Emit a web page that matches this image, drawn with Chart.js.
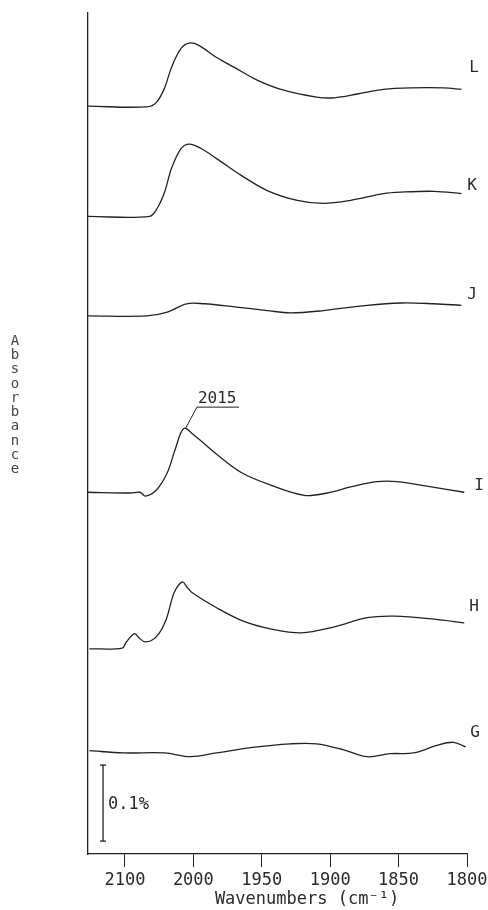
<!DOCTYPE html>
<html>
<head>
<meta charset="utf-8">
<script src="https://cdn.jsdelivr.net/npm/chart.js@4.4.1/dist/chart.umd.min.js"></script>
<style>
  html, body { margin: 0; padding: 0; background: #fff; }
  canvas { display: block; }
</style>
</head>
<body>
<canvas id="c" width="488" height="910"></canvas>
<script>
// ---- data (wavenumber axis units as drawn, absorbance in % relative to each trace's baseline) ----
const seriesNames = ['L', 'K', 'J', 'I', 'H', 'G'];
const baselineOffsets = [0.984, 0.839, 0.708, 0.476, 0.270, 0.136];

const xL = [2077, 2034, 2027, 2021, 2016, 2009, 2003, 1996, 1983, 1970, 1953, 1934, 1910, 1897, 1880, 1861, 1841, 1817, 1804];
const yL = [0, -0.001, 0.005, 0.024, 0.051, 0.076, 0.083, 0.080, 0.064, 0.051, 0.034, 0.021, 0.012, 0.011, 0.016, 0.022, 0.024, 0.024, 0.022];

const xK = [2077, 2032, 2026, 2021, 2016, 2009, 2003, 1994, 1983, 1965, 1946, 1924, 1905, 1885, 1861, 1848, 1824, 1804];
const yK = [0, 0, 0.012, 0.032, 0.063, 0.089, 0.095, 0.089, 0.076, 0.054, 0.034, 0.021, 0.017, 0.021, 0.030, 0.032, 0.033, 0.030];

const xJ = [2077, 2034, 2019, 2005, 1992, 1970, 1946, 1929, 1905, 1873, 1848, 1824, 1804];
const yJ = [0, 0, 0.005, 0.016, 0.016, 0.012, 0.007, 0.004, 0.007, 0.014, 0.017, 0.016, 0.014];

const xI = [2077, 2046, 2039, 2035, 2027, 2019, 2013, 2007, 2000, 1983, 1965, 1943, 1919, 1902, 1885, 1866, 1851, 1826, 1802];
const yI = [0, -0.001, 0, -0.005, 0.003, 0.026, 0.058, 0.084, 0.076, 0.050, 0.026, 0.009, -0.004, -0.001, 0.007, 0.014, 0.014, 0.007, 0];

const xH = [2076, 2052, 2049, 2043, 2040, 2035, 2027, 2020, 2014, 2008, 2005, 2001, 1983, 1963, 1943, 1921, 1897, 1873, 1853, 1824, 1802];
const yH = [0, 0.001, 0.009, 0.020, 0.015, 0.009, 0.016, 0.038, 0.074, 0.088, 0.082, 0.074, 0.054, 0.036, 0.026, 0.021, 0.029, 0.041, 0.043, 0.039, 0.034];

const xG = [2076, 2051, 2021, 2002, 1983, 1958, 1929, 1910, 1890, 1873, 1856, 1839, 1822, 1810, 1801];
const yG = [0, -0.003, -0.003, -0.008, -0.003, 0.004, 0.009, 0.009, 0.001, -0.008, -0.004, -0.003, 0.007, 0.011, 0.005];

const tickValues = [2050, 2000, 1950, 1900, 1850, 1800];
const tickLabels = ['2100', '2000', '1950', '1900', '1850', '1800'];

const scaleBarX = [2066, 2066];
const scaleBarY = [0.017, 0.117];
const scaleBarLabel = '0.1%';

const peakLabel = '2015';
const peakLeaderX = [2005.4, 1997.4, 1966.7];
const peakLeaderY = [0.561, 0.588, 0.588];

// ---- build datasets ----
const xs = [xL, xK, xJ, xI, xH, xG];
const ys = [yL, yK, yJ, yI, yH, yG];
const ink = '#222';

const datasets = seriesNames.map((name, i) => ({
  label: name,
  data: xs[i].map((x, j) => ({ x: x, y: baselineOffsets[i] + ys[i][j] })),
  borderColor: ink,
  borderWidth: 1.3,
  pointRadius: 0,
  tension: 0.35,
  fill: false
}));

datasets.push({
  label: 'scale',
  data: scaleBarX.map((x, j) => ({ x: x, y: scaleBarY[j] })),
  borderColor: ink,
  borderWidth: 1.3,
  pointStyle: 'line',
  pointRadius: 3,
  pointBorderColor: ink,
  pointBorderWidth: 1.3,
  tension: 0
});

datasets.push({
  label: 'leader',
  data: peakLeaderX.map((x, j) => ({ x: x, y: peakLeaderY[j] })),
  borderColor: ink,
  borderWidth: 1,
  pointRadius: 0,
  tension: 0
});

const MONO = '"DejaVu Sans Mono", "Liberation Mono", monospace';

const textPlugin = {
  id: 'texts',
  afterDraw(chart) {
    const ctx = chart.ctx;
    const sx = chart.scales.x, sy = chart.scales.y;
    ctx.save();
    ctx.fillStyle = '#2a2a2a';
    ctx.textAlign = 'center';
    ctx.textBaseline = 'middle';

    // trace labels at right
    const labelPos = [[474, 68], [472, 186], [472, 295], [479, 486], [474, 607], [475, 733]];
    ctx.font = '16px ' + MONO;
    seriesNames.forEach((n, i) => ctx.fillText(n, labelPos[i][0], labelPos[i][1]));

    // peak label
    ctx.font = '16px ' + MONO;
    ctx.textAlign = 'left';
    ctx.textBaseline = 'alphabetic';
    ctx.fillText(peakLabel, sx.getPixelForValue(peakLeaderX[1]) + 1, sy.getPixelForValue(peakLeaderY[1]) - 4);

    // scale bar label
    ctx.font = '17px ' + MONO;
    ctx.textBaseline = 'middle';
    ctx.fillText(scaleBarLabel, sx.getPixelForValue(scaleBarX[0]) + 5, sy.getPixelForValue((scaleBarY[0] + scaleBarY[1]) / 2) + 1);

    // x title
    ctx.textAlign = 'center';
    ctx.font = '17px ' + MONO;
    ctx.fillText('Wavenumbers (cm\u207B\u00B9)', 307, 900);

    // y title stacked letters
    ctx.fillStyle = '#444';
    ctx.font = '14px ' + MONO;
    const yt = 'Absorbance';
    for (let k = 0; k < yt.length; k++) {
      ctx.fillText(yt[k], 15, 341 + k * 14.3);
    }
    ctx.restore();
  }
};

new Chart(document.getElementById('c'), {
  type: 'line',
  data: { datasets },
  plugins: [textPlugin],
  options: {
    responsive: false,
    animation: false,
    devicePixelRatio: 1,
    layout: { padding: { left: 88, right: 21, top: 13, bottom: 0 } },
    plugins: { legend: { display: false }, tooltip: { enabled: false } },
    scales: {
      x: {
        type: 'linear',
        reverse: true,
        min: 1800,
        max: 2077,
        afterBuildTicks: (scale) => { scale.ticks = tickValues.map(v => ({ value: v })); },
        afterFit: (scale) => { scale.height = 56; scale.paddingRight = 0; scale.paddingLeft = 0; },
        ticks: {
          autoSkip: false,
          maxRotation: 0,
          padding: 3,
          color: '#2a2a2a',
          font: { family: MONO, size: 17 },
          callback: (v) => { const k = tickValues.indexOf(v); return k >= 0 ? tickLabels[k] : ''; }
        },
        grid: { drawOnChartArea: false, drawTicks: true, tickLength: 13, color: ink, lineWidth: 1 },
        border: { display: true, color: ink, width: 1.3 }
      },
      y: {
        type: 'linear',
        min: 0,
        max: 1.1066,
        afterFit: (scale) => { scale.width = 0; },
        ticks: { display: false },
        grid: { drawOnChartArea: false, drawTicks: false, color: ink },
        border: { display: true, color: ink, width: 1.3 }
      }
    }
  }
});
</script>
</body>
</html>
